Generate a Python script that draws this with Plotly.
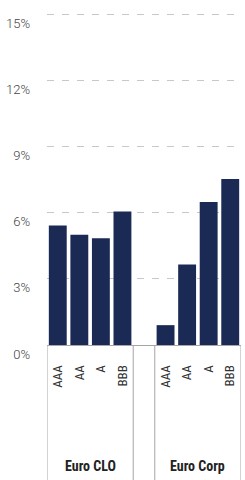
import plotly.graph_objects as go

groups = ["Euro CLO", "Euro Corp"]
ratings = ["AAA", "AA", "A", "BBB"]
euro_clo = [5.42, 5.0, 4.84, 6.05]
euro_corp = [0.9, 3.65, 6.48, 7.52]
y_ticks = [0, 3, 6, 9, 12, 15]
y_tick_labels = ["0%", "3%", "6%", "9%", "12%", "15%"]

# positions: group 1 slots 0..3, spacer slot 4, group 2 slots 5..8
x_clo = list(range(len(ratings)))
x_corp = [len(ratings) + 1 + i for i in range(len(ratings))]
n_slots = len(x_clo) + 1 + len(x_corp)

fig = go.Figure()
fig.add_trace(go.Bar(
    x=x_clo + x_corp,
    y=euro_clo + euro_corp,
    width=0.83,
    marker=dict(color="#1b2a55", line=dict(width=0)),
    hoverinfo="skip",
    showlegend=False,
))

# group dividers and labels
bounds = [-0.5, len(ratings) - 0.5, len(ratings) + 0.5, n_slots - 0.5]
for b in bounds:
    fig.add_shape(type="line", xref="x", yref="paper", x0=b, x1=b, y0=0, y1=-0.42,
                  line=dict(color="#a6a6a6", width=1))
centers = [sum(x_clo) / len(x_clo), sum(x_corp) / len(x_corp)]
for g, c in zip(groups, centers):
    fig.add_annotation(x=c, y=-0.3645, xref="x", yref="paper", text="<b>%s</b>" % g,
                       showarrow=False, yanchor="middle",
                       font=dict(family="Liberation Sans Narrow, Roboto Condensed, Arial Narrow, sans-serif",
                                 size=14, color="#222"))

fig.update_layout(
    width=245, height=480,
    margin=dict(l=47, r=4, t=13, b=135),
    plot_bgcolor="white", paper_bgcolor="white",
    bargap=0.17,
    xaxis=dict(
        range=[-0.5, n_slots - 0.5],
        tickvals=x_clo + x_corp,
        ticktext=ratings + ratings,
        tickangle=-90,
        ticks="",
        ticklabelstandoff=14,
        showgrid=False,
        zeroline=False,
        showline=True, linecolor="#a6a6a6", linewidth=1,
        tickfont=dict(family="Liberation Sans Narrow, Roboto Condensed, Arial Narrow, sans-serif",
                      size=13, color="#333"),
        fixedrange=True,
    ),
    yaxis=dict(
        range=[0, 15.05],
        tickvals=y_ticks,
        ticktext=y_tick_labels,
        ticks="",
        ticklabelposition="outside bottom",
        ticklabelstandoff=16,
        showgrid=True,
        gridcolor="#c8c8c8",
        griddash="7px,8px",
        gridwidth=1,
        zeroline=False,
        showline=False,
        tickfont=dict(family="Roboto", size=13, color="#444", weight=300),
        fixedrange=True,
    ),
)

fig.write_html("out.html")
